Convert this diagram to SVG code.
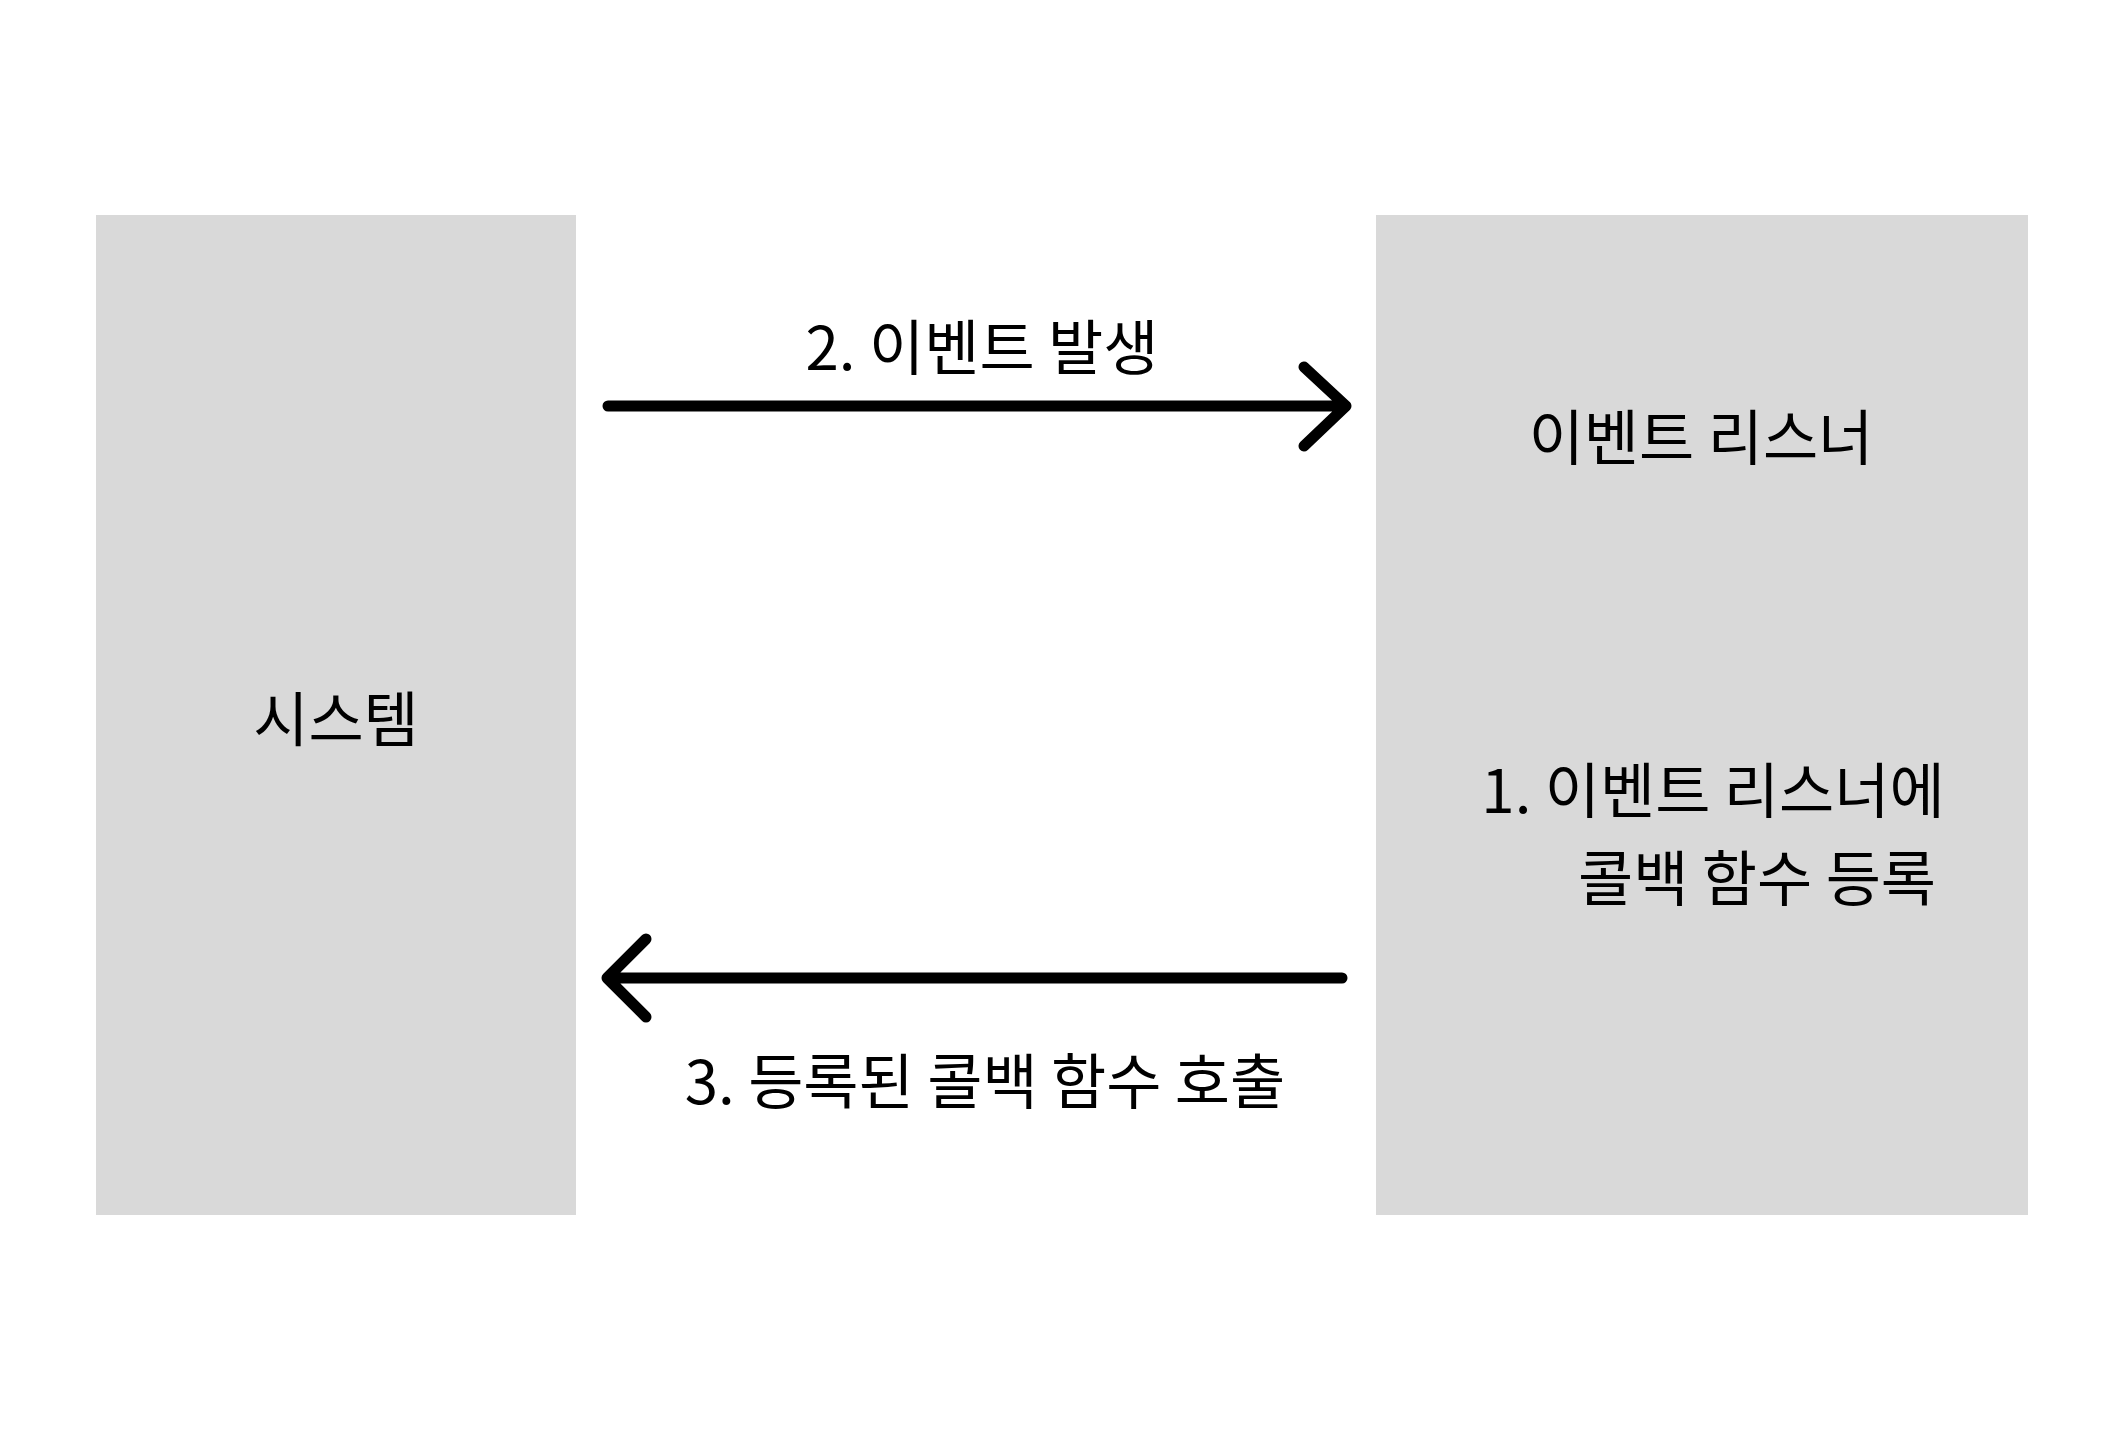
<svg xmlns="http://www.w3.org/2000/svg" width="2124" height="1432" viewBox="0 0 2124 1432">
<style>
.box{fill:#d9d9d9}
.t{font-family:"Noto Sans CJK KR","Noto Sans",sans-serif;font-size:60px;fill:#000;text-anchor:middle}
.c{stroke:#000;stroke-width:11;fill:none;stroke-linecap:round;stroke-linejoin:round}
</style>
<rect width="2124" height="1432" fill="#fff"/>
<g id="system"><rect class="box" x="96" y="215" width="480" height="1000"/><text class="t" x="336" y="742">시스템</text></g>
<g id="listener"><rect class="box" x="1376" y="215" width="652" height="1000"/>
<text class="t" x="1701" y="460">이벤트 리스너</text>
<text class="t" x="1713" y="813">1. 이벤트 리스너에</text>
<text class="t" x="1757" y="901">콜백 함수 등록</text></g>
<g id="connectors">
<path class="c" d="M608 406H1346M1304 367L1346 406L1304 446" stroke-linecap="butt"/>
<path class="c" d="M1342 978H607M646 939L607 978L646 1017"/>
<text class="t" x="982" y="370">2. 이벤트 발생</text>
<text class="t" x="985" y="1104">3. 등록된 콜백 함수 호출</text>
</g>
</svg>
